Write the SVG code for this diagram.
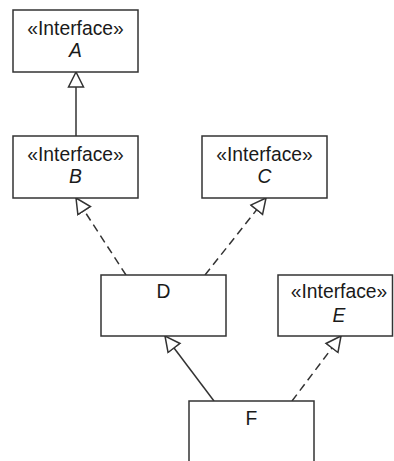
<svg xmlns="http://www.w3.org/2000/svg" width="394" height="461" viewBox="0 0 394 461">
  <style>
    .box { fill: #ffffff; stroke: #333333; stroke-width: 1.5; }
    .lbl { font-family: "Liberation Sans", Arial, sans-serif; font-size: 19.3px; fill: #1a1a1a; text-anchor: middle; }
    .it { font-style: italic; }
    .edge { fill: none; stroke: #333333; stroke-width: 1.5; }
    .dash { stroke-dasharray: 8 5; }
  </style>
  <defs>
    <!-- hollow triangle head for generalization / realization -->
    <marker id="hollow" viewBox="0 0 17 18" refX="16" refY="9" markerWidth="17" markerHeight="18" markerUnits="userSpaceOnUse" orient="auto">
      <path d="M16,9 L1,1.5 L1,16.5 Z" fill="#ffffff" stroke="#333333" stroke-width="1.5" stroke-dasharray="none"/>
    </marker>
  </defs>

  <rect width="394" height="461" fill="#ffffff"/>

  <g id="connectors">
    <line class="edge" x1="76" y1="136" x2="76" y2="72" marker-end="url(#hollow)"/>
    <line class="edge dash" x1="126" y1="275" x2="76" y2="198" marker-end="url(#hollow)"/>
    <line class="edge dash" x1="205" y1="275" x2="266" y2="198" marker-end="url(#hollow)"/>
    <line class="edge" x1="214" y1="401" x2="165" y2="336" marker-end="url(#hollow)"/>
    <line class="edge dash" x1="292" y1="401" x2="341" y2="336" marker-end="url(#hollow)"/>
  </g>

  <g id="A">
    <rect class="box" x="13" y="10" width="125" height="62"/>
    <text class="lbl" x="75.5" y="35">«Interface»</text>
    <text class="lbl it" x="75.5" y="57">A</text>
  </g>

  <g id="B">
    <rect class="box" x="13" y="136" width="125" height="62"/>
    <text class="lbl" x="75.5" y="161">«Interface»</text>
    <text class="lbl it" x="75.5" y="183">B</text>
  </g>

  <g id="C">
    <rect class="box" x="202" y="136" width="125" height="62"/>
    <text class="lbl" x="264.5" y="161">«Interface»</text>
    <text class="lbl it" x="264.5" y="183">C</text>
  </g>

  <g id="D">
    <rect class="box" x="101" y="275" width="125" height="61"/>
    <text class="lbl" x="163.5" y="298">D</text>
  </g>

  <g id="E">
    <rect class="box" x="278" y="275" width="114.5" height="61"/>
    <text class="lbl" x="339" y="298">«Interface»</text>
    <text class="lbl it" x="339" y="322">E</text>
  </g>

  <g id="F">
    <rect class="box" x="189" y="401" width="125" height="70"/>
    <text class="lbl" x="251.5" y="425">F</text>
  </g>
</svg>
